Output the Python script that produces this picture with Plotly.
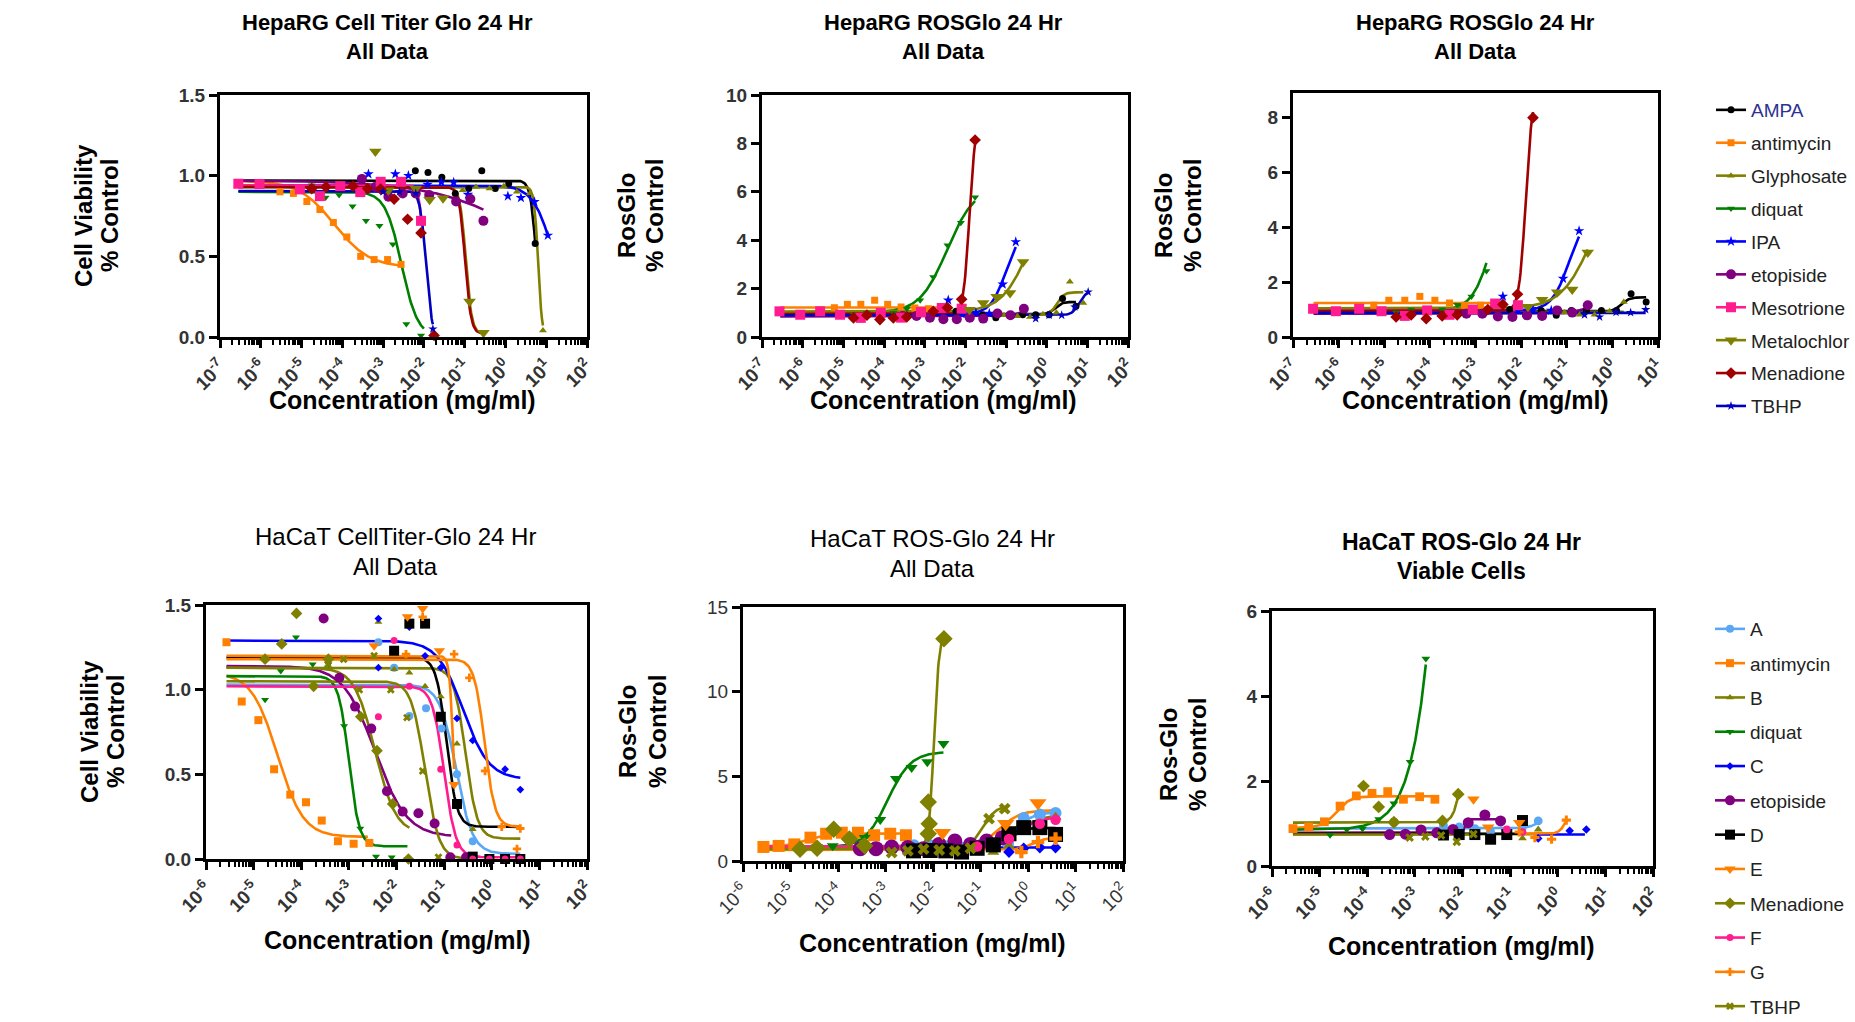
import numpy as np
import plotly.graph_objects as go

W, H = 1855, 1022
FONT = "Liberation Sans, Arial, Helvetica, sans-serif"

# ---------------- series names ----------------
TOP_NAMES = ["AMPA", "antimycin", "Glyphosate", "diquat", "IPA", "etopiside",
             "Mesotrione", "Metalochlor", "Menadione", "TBHP"]
BOT_NAMES = ["A", "antimycin", "B", "diquat", "C", "etopiside", "D", "E",
             "Menadione", "F", "G", "TBHP"]

# x values are log10(concentration, mg/ml); y values are fraction of control
# FIT rows: [left plateau, right plateau, logEC50, hill slope, log x start, log x end]

# ---------------- HepaRG Cell Titer Glo 24 Hr ----------------
HEP_CTG_LOGC = [
    [-2.21, -1.90, -1.56, -1.23, -0.90, -0.58, -0.25, 0.08, 0.73],
    [-5.53, -5.20, -4.87, -4.55, -4.22, -3.89, -3.55, -3.22, -2.89, -2.56],
    [-1.05, -0.72, -0.39, -0.04, 0.28, 0.60, 0.92],
    [-4.75, -4.41, -4.08, -3.75, -3.42, -3.09, -2.76, -2.43, -2.07, -1.75],
    [-3.36, -2.70, -2.38, -1.91, -1.57, -1.27, -0.92, 0.06, 0.38, 0.71, 1.04],
    [-3.52, -3.19, -2.87, -2.52, -2.20, -1.87, -1.21, -0.86, -0.54],
    [-6.55, -6.03, -5.04, -4.55, -4.05, -3.56, -3.06, -2.56, -2.07],
    [-3.19, -2.87, -2.20, -1.86, -1.53, -0.88, -0.54],
    [-4.75, -4.40, -3.74, -3.38, -3.06, -2.73, -2.40, -2.07, -1.75],
    [-3.00, -2.60, -2.20, -1.78],
]
HEP_CTG_Y = [
    [1.03, 1.02, 0.99, 0.89, 0.92, 1.03, 0.92, 0.95, 0.58],
    [0.90, 0.89, 0.84, 0.79, 0.71, 0.62, 0.50, 0.48, 0.48, 0.45],
    [0.91, 0.93, 0.92, 0.935, 0.90, 0.89, 0.04],
    [0.94, 0.865, 0.88, 0.81, 0.72, 0.69, 0.575, 0.08, 0.01, 0.01],
    [1.01, 1.01, 1.00, 0.945, 0.96, 0.958, 0.883, 0.873, 0.863, 0.838, 0.63],
    [0.98, 0.93, 0.87, 0.89, 0.89, 0.88, 0.84, 0.855, 0.72],
    [0.95, 0.948, 0.915, 0.873, 0.935, 0.898, 0.962, 0.962, 0.72],
    [1.15, 0.91, 0.92, 0.85, 0.86, 0.22, 0.027],
    [0.92, 0.93, 0.935, 0.92, 0.917, 0.855, 0.73, 0.645, 0.01],
    [0.90, 0.90, 0.89, 0.05],
]
HEP_CTG_FIT = [
    [0.97, 0.0, 0.76, 6, -6.55, 0.73],
    [0.97, 0.43, -4.2, 1.0, -6.55, -2.56],
    [0.93, 0.0, 0.80, 9, -6.55, 0.92],
    [0.90, 0.0, -2.55, 2.2, -6.55, -2.0],
    [0.94, 0.0, 1.22, 1.7, -6.55, 1.04],
    [0.97, 0.0, 1.29, 0.35, -6.55, -0.54],
    [0.94, 0.0, -2.0, 8, -6.55, -2.07],
    [0.93, 0.02, -0.97, 6, -6.55, -0.54],
    [0.93, 0.02, -0.99, 6, -6.55, -0.60],
    [0.905, 0.0, -1.95, 6, -6.55, -1.78],
]

# ---------------- HepaRG ROSGlo 24 Hr (all data) ----------------
HEP_ROS_LOGC = [
    [-2.23, -1.89, -1.57, -1.25, -0.92, -0.59, -0.27, 0.06, 0.39, 0.72],
    [-5.57, -5.22, -4.90, -4.57, -4.23, -3.91, -3.58, -3.24, -2.91, -2.58],
    [-1.05, -0.72, -0.41, -0.09, 0.24, 0.57, 0.90],
    [-4.75, -4.42, -4.10, -3.77, -3.44, -3.11, -2.79, -2.44, -2.11, -1.76],
    [-2.42, -2.09, -1.74, -1.41, -1.08, -0.76],
    [-3.54, -3.20, -2.87, -2.54, -2.21, -1.89, -1.56, -1.21, -0.89, -0.56],
    [-6.57, -6.06, -5.57, -5.08, -4.57, -4.08, -3.58, -3.09, -2.58, -2.09],
    [-1.90, -1.56, -1.23, -0.90, -0.58],
    [-4.75, -4.42, -4.10, -3.77, -3.44, -2.79, -2.44, -2.09, -1.76],
    [-0.27, 0.06, 0.37, 0.69, 1.02],
]
HEP_ROS_Y = [
    [1.06, 0.80, 0.92, 0.80, 0.92, 0.92, 0.92, 0.92, 1.59, 1.27],
    [1.13, 1.21, 1.35, 1.35, 1.52, 1.35, 1.24, 1.20, 1.17, 1.21],
    [0.90, 0.86, 0.83, 0.94, 1.00, 2.28, 1.41],
    [0.92, 1.00, 1.00, 1.00, 1.17, 1.52, 2.48, 3.79, 4.72, 5.77],
    [1.52, 0.95, 1.00, 0.97, 2.18, 3.93],
    [0.87, 0.87, 0.80, 0.73, 0.73, 0.80, 0.76, 0.97, 0.90, 1.17],
    [1.06, 0.92, 1.06, 0.92, 0.79, 1.00, 0.80, 1.03, 1.20, 1.17],
    [1.13, 1.41, 1.66, 1.82, 3.10],
    [0.79, 0.90, 0.72, 0.79, 0.83, 1.06, 1.21, 1.56, 8.14],
    [0.76, 0.90, 0.90, 1.24, 1.86],
]
HEP_ROS_FIT = [
    [0.93, 1.45, 0.2, 5, -6.55, 0.72],
    [1.22, 1.22, 0.0, 1, -6.55, -2.58],
    [0.90, 1.85, 0.25, 5, -6.55, 0.90],
    [1.00, 6.2, -2.45, 1.3, -6.55, -1.76],
    [0.95, 4.5, -1.0, 2.3, -6.55, -0.76],
    [0.85, 1.3, -0.5, 2, -6.55, -0.56],
    [1.00, 1.00, 0.0, 1, -6.57, -2.09],
    [1.05, 6.0, -0.45, 1.3, -6.55, -0.58],
    [0.95, 9.0, -1.9, 6, -6.55, -1.76],
    [0.90, 1.90, 0.8, 5, -6.55, 1.02],
]

# ---------------- HepaRG ROSGlo 24 Hr (right panel) ----------------
HEP_ROS2_LOGC = [
    [-2.25, -1.90, -1.56, -1.23, -0.90, -0.57, -0.24, 0.09, 0.41, 0.74],
    [-5.55, -5.23, -4.90, -4.55, -4.22, -3.89, -3.57, -3.24, -2.89, -2.57],
    [-1.05, -0.72, -0.39, -0.06, 0.25],
    [-4.74, -4.41, -4.08, -3.73, -3.40, -3.09, -2.76],
    [-2.40, -2.07, -1.74, -1.34, -1.08, -0.73],
    [-3.53, -3.20, -2.85, -2.51, -2.19, -1.87, -1.54, -1.21, -0.88, -0.54],
    [-6.56, -6.06, -5.55, -5.06, -4.55, -4.06, -3.57, -3.06, -2.57, -2.07],
    [-1.85, -1.54, -1.21, -0.88, -0.54],
    [-4.74, -4.41, -4.08, -3.73, -3.40, -2.73, -2.40, -2.08, -1.74],
    [-0.61, -0.28, 0.08, 0.40, 0.73],
]
HEP_ROS2_Y = [
    [1.00, 0.79, 0.97, 0.79, 0.97, 0.97, 0.97, 0.97, 1.58, 1.28],
    [1.06, 1.16, 1.34, 1.34, 1.48, 1.34, 1.24, 1.16, 1.16, 1.22],
    [0.89, 0.81, 0.81, 0.94, 1.28],
    [0.89, 1.00, 0.97, 1.00, 1.18, 1.48, 2.41],
    [1.48, 0.97, 1.00, 0.97, 2.13, 3.87],
    [0.85, 0.85, 0.85, 0.75, 0.73, 0.79, 0.77, 0.97, 0.89, 1.16],
    [1.03, 0.94, 1.03, 0.94, 0.77, 0.97, 0.81, 1.00, 1.22, 1.16],
    [1.10, 1.36, 1.63, 1.73, 3.08],
    [0.73, 0.81, 0.67, 0.77, 0.81, 1.00, 1.19, 1.56, 8.00],
    [0.81, 0.73, 0.90, 0.89, 1.00],
]
HEP_ROS2_FIT = [
    [0.93, 1.45, 0.2, 5, -6.55, 0.74],
    [1.24, 1.24, 0.0, 1, -6.55, -2.57],
    [0.92, 0.92, 0.0, 1, -6.55, 0.25],
    [0.97, 6.0, -2.62, 2.0, -6.55, -2.76],
    [0.97, 4.5, -0.95, 2.3, -6.55, -0.73],
    [0.85, 1.3, -0.5, 2, -6.55, -0.54],
    [0.97, 0.97, 0.0, 1, -6.56, -2.07],
    [1.05, 6.0, -0.45, 1.3, -6.55, -0.54],
    [0.95, 9.0, -1.9, 6, -6.55, -1.74],
    [0.88, 0.88, 0.0, 1, -6.55, 0.73],
]

# ---------------- HaCaT CellTiter-Glo 24 Hr ----------------
HAC_CTG_LOGC = [
    [-2.38, -2.05, -1.73, -1.38, -1.05, -0.73, -0.40, -0.05, 0.28, 0.60],
    [-5.57, -5.25, -4.90, -4.57, -4.23, -3.90, -3.57, -3.23, -2.90, -2.57],
    [-2.38, -2.05, -1.73, -1.40, -1.07, -0.73, -0.40, -0.05, 0.28, 0.60],
    [-4.76, -4.43, -4.11, -3.76, -3.43, -3.10, -2.76, -2.43, -2.10, -1.77],
    [-2.38, -2.38, -1.73, -1.40, -1.07, -0.73, -0.40, 0.28, 0.60],
    [-3.53, -3.20, -2.87, -2.53, -2.20, -1.87, -1.54, -1.20, -0.87, -0.54],
    [-2.05, -1.73, -1.40, -1.07, -0.73, -0.40, -0.05, 0.28, 0.60],
    [-2.47, -1.77, -1.45, -1.10, -0.79],
    [-4.76, -4.41, -4.10, -3.74, -3.43, -2.75, -2.41, -2.08, -1.75],
    [-2.38, -2.05, -1.73, -1.07, -0.73, -0.40, -0.05, 0.28, 0.60],
    [-1.80, -1.45, -0.79, -0.47, -0.14, 0.21, 0.53, 0.60],
    [-3.44, -3.11, -2.78, -2.47, -2.12, -1.78, -1.45, -1.12],
]
HAC_CTG_Y = [
    [1.28, 1.13, 0.845, 0.89, 0.77, 0.50, 0.105, 0.0, 0.0, 0.0],
    [1.28, 0.93, 0.82, 0.53, 0.38, 0.335, 0.227, 0.105, 0.09, 0.095],
    [1.40, 1.12, 1.10, 1.02, 0.96, 0.68, 0.175, 0.0, 0.0, 0.0],
    [0.94, 1.11, 1.31, 1.15, 1.15, 0.785, 0.18, 0.015, 0.01, 0.0],
    [1.42, 1.13, 1.37, 1.20, 1.13, 0.83, 0.70, 0.53, 0.41],
    [1.42, 1.07, 0.90, 0.77, 0.40, 0.28, 0.27, 0.21, 0.01, 0.01],
    [1.23, 1.39, 1.39, 0.84, 0.325, 0.014, 0.0, 0.0, 0.0],
    [1.26, 1.43, 1.48, 1.23, 0.44],
    [1.18, 1.27, 1.45, 1.02, 1.18, 0.84, 0.64, 0.325, 0.0],
    [0.84, 1.29, 1.02, 0.53, 0.083, 0.0, 0.0, 0.0, 0.0],
    [1.21, 1.43, 1.21, 1.07, 0.52, 0.19, 0.06, 0.18],
    [1.15, 1.18, 1.00, 1.20, 1.00, 0.835, 0.52, 0.01],
]
HAC_CTG_FIT = [
    [1.03, 0.03, -0.75, 2.5, -5.57, 0.60],
    [1.10, 0.13, -4.5, 1.6, -5.57, -2.60],
    [1.13, 0.12, -0.55, 3.5, -5.57, 0.60],
    [1.08, 0.075, -3.0, 4, -5.57, -1.77],
    [1.29, 0.47, -0.6, 1.6, -5.57, 0.60],
    [1.14, 0.13, -2.45, 1.3, -5.57, -0.85],
    [1.19, 0.19, -0.95, 4, -5.57, 0.60],
    [1.20, 0.0, -0.8, 10, -5.57, -0.79],
    [1.13, 0.15, -2.45, 2, -5.57, -1.73],
    [1.02, 0.01, -1.0, 3.5, -5.57, 0.60],
    [1.18, 0.19, -0.15, 4, -5.57, 0.60],
    [1.05, 0.0, -1.4, 3, -5.57, -0.40],
]

# ---------------- HaCaT ROS-Glo 24 Hr (all data) ----------------
HAC_ROS_LOGC = [
    [-2.40, -2.06, -1.73, -1.40, -1.07, -0.75, -0.42, -0.09, 0.25, 0.58],
    [-5.57, -5.25, -4.92, -4.58, -4.25, -3.92, -3.58, -3.24, -2.90, -2.57],
    [-2.40, -2.06, -1.73, -1.40, -1.07, -0.73, -0.40, -0.09, 0.25, 0.58],
    [-4.80, -4.44, -4.11, -3.76, -3.44, -3.11, -2.78, -2.45, -2.12, -1.78],
    [-2.40, -1.73, -1.07, -0.40, -0.09, 0.25, 0.58],
    [-3.53, -3.20, -2.87, -2.53, -2.20, -1.87, -1.54, -1.21, -0.87, -0.54],
    [-2.41, -2.06, -1.73, -1.40, -1.07, -0.73, -0.40, -0.09, 0.25, 0.58],
    [-1.80, -0.47, 0.21],
    [-4.80, -4.44, -4.09, -3.76, -3.44, -2.10, -2.10, -2.08, -1.77],
    [-1.07, -0.40, 0.25, 0.58],
    [-0.14, 0.21, 0.58],
    [-2.87, -2.53, -2.20, -1.87, -1.54, -1.21, -0.82, -0.49],
]
HAC_ROS_Y = [
    [0.93, 0.93, 0.87, 0.77, 0.77, 0.87, 1.02, 2.54, 2.74, 2.83],
    [0.83, 0.89, 0.98, 1.38, 1.61, 1.67, 1.67, 1.52, 1.61, 1.52],
    [0.60, 0.55, 0.60, 0.55, 0.70, 0.53, 0.90, 1.97, 1.97, 2.60],
    [0.73, 0.83, 0.89, 1.18, 1.38, 2.44, 4.86, 5.51, 5.85, 6.93],
    [0.75, 0.70, 0.70, 0.53, 0.75, 0.79, 0.79],
    [0.73, 0.73, 0.83, 0.79, 0.73, 0.98, 1.18, 0.98, 1.18, 1.38],
    [0.60, 0.62, 0.60, 0.53, 0.75, 0.95, 1.61, 1.97, 1.97, 1.57],
    [1.67, 2.20, 3.43],
    [0.70, 0.75, 1.87, 1.30, 0.90, 3.48, 1.61, 2.20, 13.13],
    [0.85, 1.30, 2.20, 2.44],
    [0.53, 1.12, 1.32],
    [0.50, 0.60, 0.70, 0.65, 0.60, 0.75, 2.50, 3.09],
]
HAC_ROS_FIT = [
    [0.85, 2.9, -0.3, 2, -5.57, 0.58],
    [0.85, 1.62, -4.65, 2, -5.57, -2.57],
    [0.70, 2.7, -0.2, 2, -5.57, 0.58],
    [0.80, 6.45, -2.95, 1.8, -4.80, -1.78],
    [0.78, 0.80, 0.0, 1, -5.57, 0.58],
    [0.80, 1.4, -1.2, 1.5, -5.57, -0.54],
    [0.70, 1.95, -0.5, 3, -5.57, 0.58],
    [0.80, 3.0, -0.6, 2, -5.57, 0.58],
    [0.75, 13.5, -1.98, 8, -4.80, -1.77],
    [0.85, 2.6, -0.2, 2, -5.57, 0.58],
    [0.65, 1.4, 0.1, 3, -5.57, 0.58],
    [0.70, 3.3, -0.95, 3, -5.57, -0.49],
]

# ---------------- HaCaT ROS-Glo 24 Hr (viable cells) ----------------
HAC_VIA_LOGC = [
    [-2.40, -2.07, -1.74, -1.41, -1.07, -0.74, -0.41],
    [-5.56, -5.23, -4.90, -4.57, -4.23, -3.90, -3.57, -3.24, -2.90, -2.58],
    [-2.40, -2.07, -1.74, -1.41, -1.07, -0.74, -0.41],
    [-4.78, -4.43, -4.10, -3.76, -3.44, -3.10, -2.77],
    [-0.41, 0.25, 0.60],
    [-3.53, -3.20, -2.87, -2.54, -2.20, -1.88, -1.53, -1.20],
    [-2.40, -2.07, -1.74, -1.41, -1.07, -0.74],
    [-1.77, -1.46, -0.81],
    [-4.08, -3.76, -3.44, -2.42, -2.09],
    [-1.07, -0.74],
    [-0.81, -0.48, -0.13, 0.18],
    [-3.44, -3.11, -2.78, -2.45, -2.12, -1.77],
]
HAC_VIA_Y = [
    [0.96, 0.92, 0.88, 0.81, 0.74, 0.91, 1.06],
    [0.88, 0.92, 1.04, 1.41, 1.65, 1.71, 1.75, 1.57, 1.63, 1.57],
    [0.70, 0.72, 0.72, 0.68, 0.74, 0.65, 0.86],
    [0.73, 0.86, 0.88, 1.10, 1.47, 2.45, 4.88],
    [0.65, 0.83, 0.86],
    [0.74, 0.75, 0.85, 0.78, 0.86, 1.02, 1.20, 1.06],
    [0.73, 0.74, 0.74, 0.63, 0.74, 1.07],
    [1.57, 0.91, 1.02],
    [1.88, 1.39, 1.03, 1.06, 1.69],
    [0.86, 0.80],
    [0.80, 0.67, 0.63, 1.08],
    [1.03, 0.67, 0.69, 0.72, 0.57, 0.75],
]
HAC_VIA_FIT = [
    [0.88, 1.3, -0.3, 3, -5.56, -0.41],
    [0.90, 1.64, -4.65, 3, -5.56, -2.58],
    [0.75, 0.75, 0.0, 1, -5.56, -0.41],
    [0.85, 100.0, -1.65, 1.24, -5.56, -2.77],
    [0.74, 0.74, 0.0, 1, -0.44, 0.57],
    [0.78, 1.10, -1.95, 15, -5.56, -1.20],
    [0.76, 0.76, 0.0, 1, -5.56, -0.74],
    None,
    [1.02, 5.0, -1.95, 5, -5.56, -2.09],
    None,
    [0.76, 1.5, 0.2, 6, -0.80, 0.18],
    [0.74, 0.74, 0.0, 1, -5.56, -1.77],
]

# ---------------- axis ticks ----------------
HEP_XEXP = [-7, -6, -5, -4, -3, -2, -1, 0, 1, 2]
HEP2_XEXP = [-7, -6, -5, -4, -3, -2, -1, 0, 1]
HAC_XEXP = [-6, -5, -4, -3, -2, -1, 0, 1, 2]
CTG_YTICKS = [0.0, 0.5, 1.0, 1.5]
HEP_ROS_YTICKS = [0, 2, 4, 6, 8, 10]
HEP_ROS2_YTICKS = [0, 2, 4, 6, 8]
HAC_ROS_YTICKS = [0, 5, 10, 15]
HAC_VIA_YTICKS = [0, 2, 4, 6]

# ---------------- styles ----------------
TOP_COLORS = ["#000000", "#FF8000", "#808000", "#008000", "#0000FF", "#800080",
              "#FF1C8E", "#808000", "#A00000", "#0000C0"]
TOP_SYMBOLS = ["circle", "square", "triangle-up", "triangle-down", "star", "circle",
               "square", "triangle-down", "diamond", "star"]
TOP_SIZES = [7, 7, 7, 7, 8, 10, 10, 11, 9, 7]
BOT_COLORS = ["#5AA8F5", "#FF8000", "#808000", "#008000", "#0000FF", "#800080",
              "#000000", "#FF8000", "#808000", "#FF1C8E", "#FF8000", "#808000"]
BOT_SYMBOLS = ["circle", "square", "triangle-up", "triangle-down", "diamond", "circle",
               "square", "triangle-down", "diamond", "circle", "cross", "x"]
BOT_SIZES = [8, 8, 7, 7, 6, 10, 10, 10, 9, 7, 7, 7]

PANELS = [
    dict(logc=HEP_CTG_LOGC, y=HEP_CTG_Y, fit=HEP_CTG_FIT, row="top",
         box=(220, 95, 587, 337), xexp=HEP_XEXP, yticks=CTG_YTICKS, yfmt="{:.1f}",
         yrange=[0, 1.5], title=("HepaRG Cell Titer Glo 24 Hr", "All Data"),
         tpos=(387, 22, 51), tbold=True, tsize=22, ytitle=("Cell Viability", "% Control"),
         ytx=(83, 109), yty=216, xtpos=(402, 400), tickbold=True, msc=1.0),
    dict(logc=HEP_ROS_LOGC, y=HEP_ROS_Y, fit=HEP_ROS_FIT, row="top",
         box=(762, 95, 1128, 337), xexp=HEP_XEXP, yticks=HEP_ROS_YTICKS, yfmt="{:d}",
         yrange=[0, 10], title=("HepaRG ROSGlo 24 Hr", "All Data"),
         tpos=(944, 22, 51), tbold=True, tsize=22, ytitle=("RosGlo", "% Control"),
         ytx=(626, 654), yty=216, xtpos=(944, 400), tickbold=True, msc=1.0),
    dict(logc=HEP_ROS2_LOGC, y=HEP_ROS2_Y, fit=HEP_ROS2_FIT, row="top",
         box=(1293, 93, 1658, 337), xexp=HEP2_XEXP, yticks=HEP_ROS2_YTICKS, yfmt="{:d}",
         yrange=[0, 8.9], title=("HepaRG ROSGlo 24 Hr", "All Data"),
         tpos=(1475, 22, 51), tbold=True, tsize=22, ytitle=("RosGlo", "% Control"),
         ytx=(1163, 1192), yty=216, xtpos=(1475, 400), tickbold=True, msc=1.0),
    dict(logc=HAC_CTG_LOGC, y=HAC_CTG_Y, fit=HAC_CTG_FIT, row="bot",
         box=(206, 605, 587, 859), xexp=HAC_XEXP, yticks=CTG_YTICKS, yfmt="{:.1f}",
         yrange=[0, 1.5], title=("HaCaT CellTiter-Glo 24 Hr", "All Data"),
         tpos=(395, 536, 566), tbold=False, tsize=24, ytitle=("Cell Viability", "% Control"),
         ytx=(89, 115), yty=732, xtpos=(397, 940), tickbold=True, msc=1.0),
    dict(logc=HAC_ROS_LOGC, y=HAC_ROS_Y, fit=HAC_ROS_FIT, row="bot",
         box=(743, 607, 1123, 861), xexp=HAC_XEXP, yticks=HAC_ROS_YTICKS, yfmt="{:d}",
         yrange=[0, 15], title=("HaCaT ROS-Glo 24 Hr", "All Data"),
         tpos=(932, 538, 568), tbold=False, tsize=24, ytitle=("Ros-Glo", "% Control"),
         ytx=(627, 657), yty=732, xtpos=(932, 943), tickbold=False, msc=1.5),
    dict(logc=HAC_VIA_LOGC, y=HAC_VIA_Y, fit=HAC_VIA_FIT, row="bot",
         box=(1272, 611, 1653, 866), xexp=HAC_XEXP, yticks=HAC_VIA_YTICKS, yfmt="{:d}",
         yrange=[0, 6], title=("HaCaT ROS-Glo 24 Hr", "Viable Cells"),
         tpos=(1461, 542, 571), tbold=True, tsize=23, ytitle=("Ros-Glo", "% Control"),
         ytx=(1168, 1197), yty=755, xtpos=(1461, 946), tickbold=True, msc=1.1),
]


def fit_curve(p):
    a, b, ec50, hill, x0, x1 = p
    lx = np.linspace(x0, x1, 300)
    yy = a + (b - a) / (1.0 + 10.0 ** ((ec50 - lx) * hill))
    return 10.0 ** lx, yy


def ann(text, px, py, size, bold, angle=0):
    return dict(text=text, x=px / W, y=1 - py / H, xref="paper", yref="paper",
                showarrow=False, xanchor="center", yanchor="middle", textangle=angle,
                font=dict(family=FONT, size=size, color="black",
                          weight="bold" if bold else "normal"))


fig = go.Figure()
layout = dict(width=W, height=H,
              margin=dict(l=0, r=0, t=0, b=0, pad=0, autoexpand=False),
              paper_bgcolor="white", plot_bgcolor="white", showlegend=True)
annotations = []

for i, P in enumerate(PANELS, start=1):
    xs = "x" if i == 1 else f"x{i}"
    ys = "y" if i == 1 else f"y{i}"
    l, t, r, b = P["box"]
    top = P["row"] == "top"
    colors = TOP_COLORS if top else BOT_COLORS
    symbols = TOP_SYMBOLS if top else BOT_SYMBOLS
    sizes = TOP_SIZES if top else BOT_SIZES
    names = TOP_NAMES if top else BOT_NAMES

    for j, p in enumerate(P["fit"]):
        if p is None:
            continue
        cx, cy = fit_curve(p)
        fig.add_trace(go.Scatter(x=cx, y=cy, mode="lines", xaxis=xs, yaxis=ys,
                                 line=dict(color=colors[j], width=2.6),
                                 showlegend=False, hoverinfo="skip", cliponaxis=False))
    for j in range(len(P["logc"])):
        px = [10.0 ** v for v in P["logc"][j]]
        fig.add_trace(go.Scatter(x=px, y=P["y"][j], mode="markers", xaxis=xs, yaxis=ys,
                                 marker=dict(color=colors[j], symbol=symbols[j],
                                             size=sizes[j] * P["msc"],
                                             line=dict(width=0)),
                                 name=names[j], showlegend=False, cliponaxis=False))

    tickw = "bold" if P["tickbold"] else "normal"
    e0, e1 = P["xexp"][0], P["xexp"][-1]
    minor_vals = [m * 10.0 ** k for k in range(e0, e1) for m in range(2, 10)]
    layout["xaxis" if i == 1 else f"xaxis{i}"] = dict(
        domain=[l / W, r / W], type="log", range=[e0, e1], anchor=ys,
        tickmode="array", tickvals=[10.0 ** e for e in P["xexp"]],
        ticktext=[f"10<sup>{e}</sup>" for e in P["xexp"]], tickangle=-45,
        ticks="outside", ticklen=8, tickwidth=3, tickcolor="black",
        showline=True, linewidth=3, linecolor="black", mirror=True,
        showgrid=False, zeroline=False, automargin=False,
        tickfont=dict(family=FONT, size=19, color="#333333", weight=tickw),
        minor=dict(ticks="outside", ticklen=5, tickwidth=2, tickcolor="black",
                   tickmode="array", tickvals=minor_vals, showgrid=False))
    layout["yaxis" if i == 1 else f"yaxis{i}"] = dict(
        domain=[1 - b / H, 1 - t / H], range=P["yrange"], anchor=xs,
        tickmode="array", tickvals=P["yticks"],
        ticktext=[P["yfmt"].format(v) for v in P["yticks"]],
        ticks="outside", ticklen=8, tickwidth=3, tickcolor="black",
        showline=True, linewidth=3, linecolor="black", mirror=True,
        showgrid=False, zeroline=False, automargin=False,
        tickfont=dict(family=FONT, size=19, color="#333333", weight=tickw))

    tx, ty1, ty2 = P["tpos"]
    annotations.append(ann(P["title"][0], tx, ty1, P["tsize"], P["tbold"]))
    annotations.append(ann(P["title"][1], tx, ty2, P["tsize"], P["tbold"]))
    annotations.append(ann(P["ytitle"][0], P["ytx"][0], P["yty"], 24, True, -90))
    annotations.append(ann(P["ytitle"][1], P["ytx"][1], P["yty"], 24, True, -90))
    annotations.append(ann("Concentration (mg/ml)", P["xtpos"][0], P["xtpos"][1], 25, True))

for j, n in enumerate(TOP_NAMES):
    label = '<span style="color:#2E3192">AMPA</span>' if n == "AMPA" else n
    fig.add_trace(go.Scatter(x=[None], y=[None], mode="lines+markers", name=label,
                             xaxis="x3", yaxis="y3", legend="legend",
                             legendgroup=f"t{j}",
                             line=dict(color=TOP_COLORS[j], width=2.6),
                             marker=dict(color=TOP_COLORS[j], symbol=TOP_SYMBOLS[j],
                                         size=TOP_SIZES[j])))
for j, n in enumerate(BOT_NAMES):
    fig.add_trace(go.Scatter(x=[None], y=[None], mode="lines+markers", name=n,
                             xaxis="x6", yaxis="y6", legend="legend2",
                             legendgroup=f"b{j}",
                             line=dict(color=BOT_COLORS[j], width=2.6),
                             marker=dict(color=BOT_COLORS[j], symbol=BOT_SYMBOLS[j],
                                         size=BOT_SIZES[j])))

layout["legend"] = dict(x=1711 / W, y=1 - 91 / H, xanchor="left", yanchor="top",
                        bgcolor="rgba(0,0,0,0)", tracegroupgap=5.2, itemwidth=30,
                        font=dict(family=FONT, size=19, color="#222222"))
layout["legend2"] = dict(x=1710 / W, y=1 - 610 / H, xanchor="left", yanchor="top",
                         bgcolor="rgba(0,0,0,0)", tracegroupgap=6.6, itemwidth=30,
                         font=dict(family=FONT, size=19, color="#222222"))
layout["annotations"] = annotations
fig.update_layout(**layout)

fig.write_html("out.html", config={"displayModeBar": False},
               post_script="document.body.style.margin='0';document.body.style.overflow='hidden';")
